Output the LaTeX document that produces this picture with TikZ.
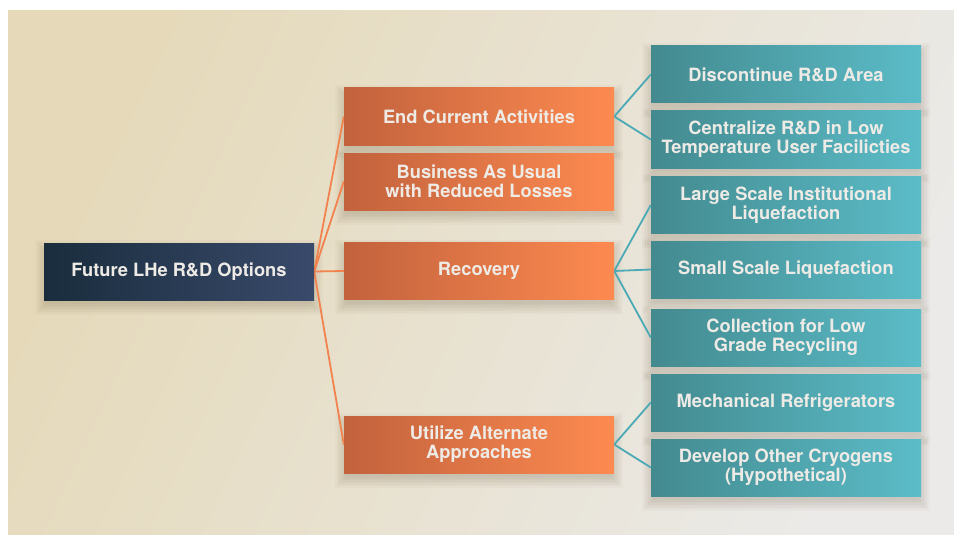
\documentclass[tikz,border=0pt]{standalone}
\usepackage{fontspec}
\setmainfont{TeX Gyre Heros}
\definecolor{bgA}{HTML}{E5D9B9}
\definecolor{bgB}{HTML}{EBEAE8}
\definecolor{rootL}{HTML}{192D3D}
\definecolor{rootR}{HTML}{3A4A6B}
\definecolor{orL}{HTML}{C2623D}
\definecolor{orR}{HTML}{FD8A50}
\definecolor{tlL}{HTML}{438A8F}
\definecolor{tlR}{HTML}{5BBCC8}
\definecolor{txt}{HTML}{EEEBE6}
\definecolor{orLine}{HTML}{F2824E}
\definecolor{tlLine}{HTML}{4BAAB5}
\definecolor{shd}{HTML}{5A4A30}
\pgfdeclarelayer{bg}
\pgfdeclarelayer{shadow}
\pgfdeclarelayer{lines}
\pgfsetlayers{bg,shadow,lines,main}
\tikzset{
  box/.style={rectangle, minimum width=270pt, minimum height=57pt, inner sep=0pt,
    align=center, text=txt, font=\fontsize{18.3}{19}\selectfont\bfseries},
  rootbox/.style={box, left color=rootL, right color=rootR},
  orbox/.style={box, left color=orL, right color=orR},
  tlbox/.style={box, left color=tlL, right color=tlR},
  orline/.style={draw=orLine, line width=1.8pt},
  tlline/.style={draw=tlLine, line width=1.8pt},
  shadowpiece/.style={fill=shd, fill opacity=0.026}
}
\begin{document}
\begin{tikzpicture}[x=1pt,y=1pt]
\useasboundingbox (0,0) rectangle (954,-535);
\begin{pgfonlayer}{bg}
  \fill[white] (0,0) rectangle (954,-535);
  \shade[top color=bgA, bottom color=bgB, shading angle=65] (8,-11) rectangle (954,-535);
\end{pgfonlayer}

\node[rootbox] (root) at (179,-271.5) {Future LHe R\&D Options};

\node[orbox] (end) at (479,-116.5) {End Current Activities};
\node[orbox] (bau) at (479,-181.5) {Business As Usual\\with Reduced Losses};
\node[orbox] (rec) at (479,-271) {Recovery};
\node[orbox] (uti) at (479,-444.5) {Utilize Alternate\\Approaches};

\node[tlbox] (dis) at (786,-74.5) {Discontinue R\&D Area};
\node[tlbox] (cen) at (786,-139.5) {Centralize R\&D in Low\\Temperature User Facilicties};
\node[tlbox] (lsi) at (786,-205) {Large Scale Institutional\\Liquefaction};
\node[tlbox] (ssl) at (786,-269.5) {Small Scale Liquefaction};
\node[tlbox] (col) at (786,-337.5) {Collection for Low\\Grade Recycling};
\node[tlbox] (mec) at (786,-402.5) {Mechanical Refrigerators};
\node[tlbox] (dev) at (786,-467.5) {Develop Other Cryogens\\(Hypothetical)};

\begin{pgfonlayer}{shadow}
  \foreach \n in {root,end,bau,rec,uti,dis,cen,lsi,ssl,col,mec,dev}
    \foreach \r in {-2,-0.5,1,2.5,4,5.5,7,8.5}
      \fill[shadowpiece] ([shift={(0-\r,-6-\r)}]\n.south west) rectangle ([shift={(0+\r,-6+\r)}]\n.north east);
\end{pgfonlayer}

\begin{pgfonlayer}{lines}
  \foreach \t in {end,bau,rec,uti} \draw[orline] (root.east) -- (\t.west);
  \foreach \t in {dis,cen} \draw[tlline] (end.east) -- (\t.west);
  \foreach \t in {lsi,ssl,col} \draw[tlline] (rec.east) -- (\t.west);
  \foreach \t in {mec,dev} \draw[tlline] (uti.east) -- (\t.west);
\end{pgfonlayer}
\end{tikzpicture}
\end{document}
